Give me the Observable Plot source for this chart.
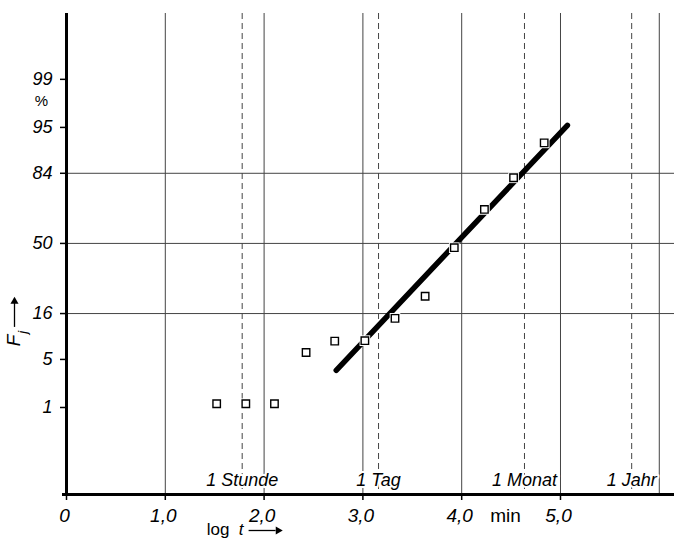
<!DOCTYPE html>
<html><head><meta charset="utf-8">
<script src="https://cdn.jsdelivr.net/npm/d3@7"></script>
<script src="https://cdn.jsdelivr.net/npm/@observablehq/plot@0.6"></script>
<style>body{margin:0;background:#fff;} svg{display:block}</style>
</head><body><div id="chart"></div>
<script>
// ---- data ----
const logT = [1.52, 1.815, 2.105, 2.425, 2.715, 3.02, 3.325, 3.63, 3.925, 4.23, 4.525, 4.835];
const Fj   = [1.15, 1.15, 1.15, 6.1, 8.3, 8.4, 14.4, 22.7, 47.6, 68.5, 82.4, 92.3];
const fitLogT = [2.73, 5.07];
const fitFj   = [3.6, 95.3];
const yTickValues = [1, 5, 16, 50, 84, 95, 99];
const yTickLabels = ["1", "5", "16", "50", "84", "95", "99"];
const yGridValues = [16, 50, 84];
const xTickValues = [0, 1, 2, 3, 4, 5];
const xTickLabels = ["0", "1,0", "2,0", "3,0", "4,0", "5,0"];
const xGridValues = [1, 2, 3, 4, 5, 6];
const timeNames   = ["1 Stunde", "1 Tag", "1 Monat", "1 Jahr"];
const timeMinutes = [60, 1440, 43200, 525600];

// inverse normal CDF (probability-paper ordinate), p in percent
function probit(pct) {
  const p = pct / 100;
  const a=[-3.969683028665376e+01,2.209460984245205e+02,-2.759285104469687e+02,1.383577518672690e+02,-3.066479806614716e+01,2.506628277459239e+00];
  const b=[-5.447609879822406e+01,1.615858368580409e+02,-1.556989798598866e+02,6.680131188771972e+01,-1.328068155288572e+01];
  const c=[-7.784894002430293e-03,-3.223964580411365e-01,-2.400758277161838e+00,-2.549732539343734e+00,4.374664141464968e+00,2.938163982698783e+00];
  const d=[7.784695709041462e-03,3.224671290700398e-01,2.445134137142996e+00,3.754408661907416e+00];
  const pl = 0.02425, ph = 1 - pl;
  if (p < pl) { const q = Math.sqrt(-2*Math.log(p)); return (((((c[0]*q+c[1])*q+c[2])*q+c[3])*q+c[4])*q+c[5])/((((d[0]*q+d[1])*q+d[2])*q+d[3])*q+1); }
  if (p <= ph) { const q = p-0.5, r = q*q; return (((((a[0]*r+a[1])*r+a[2])*r+a[3])*r+a[4])*r+a[5])*q/(((((b[0]*r+b[1])*r+b[2])*r+b[3])*r+b[4])*r+1); }
  const q = Math.sqrt(-2*Math.log(1-p)); return -(((((c[0]*q+c[1])*q+c[2])*q+c[3])*q+c[4])*q+c[5])/((((d[0]*q+d[1])*q+d[2])*q+d[3])*q+1);
}

const points = logT.map((x, i) => ({x, z: probit(Fj[i])}));
const fit = fitLogT.map((x, i) => ({x, z: probit(fitFj[i])}));
const yTicks = yTickValues.map((v, i) => ({z: probit(v), label: yTickLabels[i]}));
const xTicks = xTickValues.map((v, i) => ({x: v, label: xTickLabels[i]}));
const times = timeMinutes.map((m, i) => ({x: Math.log10(m), name: timeNames[i]}));

const W = 674, H = 538, mL = 66, mR = 0, mT = 13, mB = 44;
const xDom = [0, 6.154], zDom = [-3.56, 3.26];
const pxX = (W - mL - mR) / (xDom[1] - xDom[0]);
const pxZ = (H - mT - mB) / (zDom[1] - zDom[0]);
const zMin = zDom[0];
const grid = "#444";
const font = "'Liberation Sans', Arial, sans-serif";

const chart = Plot.plot({
  width: W, height: H,
  marginLeft: mL, marginRight: mR, marginTop: mT, marginBottom: mB,
  x: {domain: xDom, axis: null},
  y: {domain: zDom, axis: null},
  style: {fontFamily: font, fontStyle: "italic", fontSize: "18px", background: "white", color: "black"},
  marks: [
    Plot.ruleX(xGridValues, {stroke: grid, strokeWidth: 1}),
    Plot.ruleY(yGridValues.map(probit), {stroke: grid, strokeWidth: 1}),
    Plot.ruleX(times, {x: "x", stroke: grid, strokeWidth: 1, strokeDasharray: "6,4"}),
    Plot.text(times, {x: "x", y: zMin, dy: -14, text: "name", fontSize: 18, fill: "black",
                      stroke: "white", strokeWidth: 4, paintOrder: "stroke"}),
    // axes
    Plot.ruleX([0], {stroke: "black", strokeWidth: 3, insetBottom: -1.5}),
    Plot.ruleY([zMin], {stroke: "black", strokeWidth: 3, insetLeft: -4}),
    Plot.ruleY(yTicks, {y: "z", x1: 0, x2: -6 / pxX, stroke: "black", strokeWidth: 1.5}),
    Plot.ruleX(xTicks, {x: "x", y1: zMin, y2: zMin - 6 / pxZ, stroke: "black", strokeWidth: 1.5}),
    Plot.text(yTicks, {x: 0, y: "z", text: "label", textAnchor: "end", dx: -14, fontSize: 18}),
    Plot.text(["%"], {x: 0, y: probit(99), dx: -25, dy: 22, fontSize: 15, fontStyle: "normal"}),
    Plot.text(xTicks, {x: "x", y: zMin, dy: 21, dx: -2, text: "label", fontSize: 19}),
    Plot.text(["min"], {x: 4.443, y: zMin, dy: 21, fontSize: 19, fontStyle: "normal"}),
    // x axis name: log t ->
    Plot.text(["log"], {x: 2, y: zMin, dx: -46, dy: 35, fontSize: 17, fontStyle: "normal"}),
    Plot.text(["t"], {x: 2, y: zMin, dx: -23, dy: 35, fontSize: 17}),
    Plot.ruleY([zMin], {x1: 2 - 15 / pxX, x2: 2 + 12 / pxX, dy: 36, stroke: "black", strokeWidth: 1.3}),
    Plot.dot([{x: 2 + 14 / pxX, z: zMin}], {x: "x", y: "z", dy: 36, symbol: "triangle", rotate: 90, r: 3, fill: "black"}),
    // y axis name: F_j ->
    Plot.text(["F"], {x: 0, y: 0, dx: -53, dy: 97, rotate: -90, fontSize: 19}),
    Plot.text(["j"], {x: 0, y: 0, dx: -44, dy: 89, rotate: -90, fontSize: 13}),
    Plot.ruleX([0], {y1: -84 / pxZ, y2: -60 / pxZ, dx: -52, stroke: "black", strokeWidth: 1.3}),
    Plot.dot([{x: 0, z: -58 / pxZ}], {x: "x", y: "z", dx: -52, symbol: "triangle", r: 3, fill: "black"}),
    // fitted line and points
    Plot.line(fit, {x: "x", y: "z", stroke: "black", strokeWidth: 5.5}),
    Plot.dot(points, {x: "x", y: "z", symbol: "square", r: 6, fill: "white"}),
    Plot.dot(points, {x: "x", y: "z", symbol: "square", r: 4.2, fill: "white", stroke: "black", strokeWidth: 1.4})
  ]
});
document.getElementById("chart").appendChild(chart);
</script>
</body></html>
